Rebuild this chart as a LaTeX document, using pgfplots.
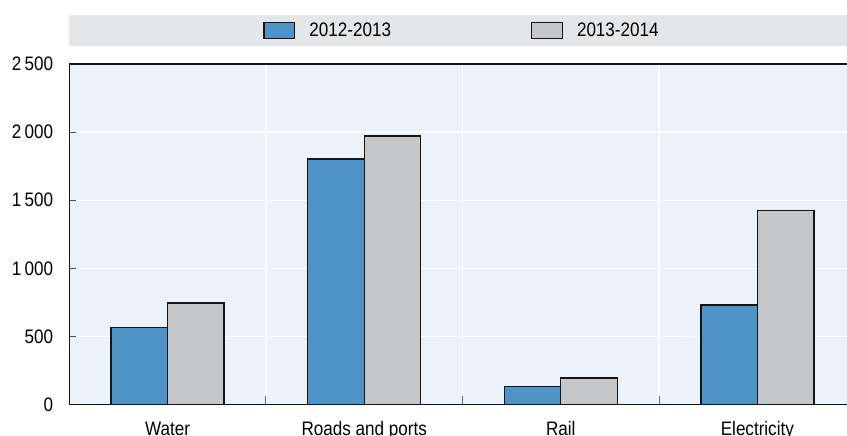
\documentclass[border=0pt]{standalone}
\usepackage{fontspec}
\setmainfont{Liberation Sans}[FakeStretch=0.875]
\usepackage{pgfplots}
\pgfplotsset{compat=1.18}

\definecolor{seriesblue}{HTML}{4F94C9}
\definecolor{seriesgrey}{HTML}{C6C7C9}
\definecolor{plotbg}{HTML}{EBF2FA}
\definecolor{bandgrey}{HTML}{E5E6E8}
\definecolor{edge}{HTML}{151515}

\begin{document}
\begin{tikzpicture}
% legend band above the plot
\fill[bandgrey] (0bp,358.8bp) rectangle (786.2bp,389.5bp);
\begin{axis}[
  scale only axis,
  width=786.2bp, height=340.5bp,
  ybar=0pt, bar width=56.5bp,
  xmin=-0.5, xmax=3.5,
  ymin=0, ymax=2500,
  xtick={0,1,2,3},
  xticklabels={Water,Roads and ports,Rail,Electricity},
  minor xtick={0.5,1.5,2.5},
  ytick={0,500,1000,1500,2000,2500},
  axis background/.style={fill=plotbg},
  axis x line*=bottom, axis y line*=left,
  axis line style={edge, line width=1.4bp, -},
  ymajorgrids, xminorgrids,
  major grid style={white, line width=1.2bp},
  minor grid style={white, line width=1.2bp},
  tick align=inside,
  major tick length=7bp,
  minor tick length=8bp,
  x tick style={draw=none},
  minor x tick style={draw=gray!80!black, line width=1bp},
  y tick style={draw=gray!60!black, line width=1bp},
  tick label style={font=\fontsize{19.5bp}{22bp}\selectfont},
  /pgf/number format/assume math mode=true,
  /pgf/number format/.cd, 1000 sep={\,}, /pgfplots/.cd,
  yticklabel style={anchor=east, inner sep=0pt, xshift=-16bp},
  xticklabel style={anchor=base, inner sep=0pt, yshift=-31bp},
  legend columns=2,
  legend style={draw=none, fill=none, at={(0.4994,1.0988)}, anchor=center,
    font=\fontsize{19.5bp}{22bp}\selectfont, inner sep=0pt,
    /tikz/every odd column/.append style={column sep=12bp},
    /tikz/every even column/.append style={column sep=138bp}},
  legend image code/.code={\draw[#1, line width=1.3bp] (0bp,-7.8bp) rectangle (30.7bp,7.8bp);},
  clip=false,
]
\addplot[fill=seriesblue, draw=edge, line width=1.4bp] coordinates {(0,564) (1,1802) (2,134) (3,730)};
\addplot[fill=seriesgrey, draw=edge, line width=1.4bp] coordinates {(0,745) (1,1971) (2,195) (3,1423)};
\legend{2012-2013,2013-2014}
\draw[edge, line width=1.4bp] (rel axis cs:0,1) -- (rel axis cs:1,1);
\end{axis}
\pgfresetboundingbox
\useasboundingbox (-69.4bp,-31.5bp) rectangle (777.6bp,404.5bp);
\end{tikzpicture}
\end{document}
